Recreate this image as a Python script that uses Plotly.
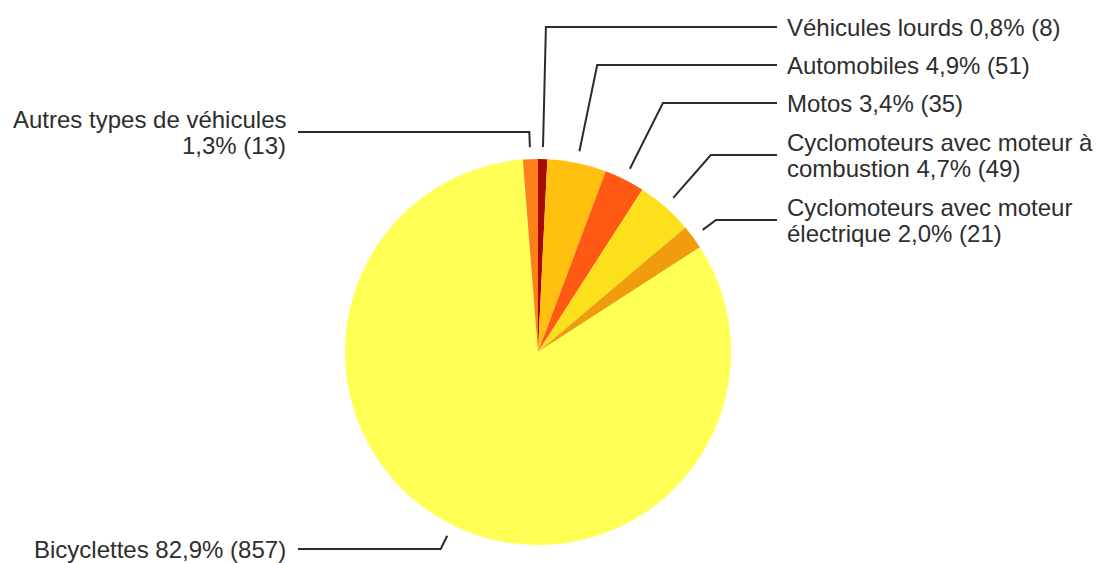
import math
import plotly.graph_objects as go

W, H = 1099, 563

# Data (clockwise from 12 o'clock)
categories = ["Véhicules lourds", "Automobiles", "Motos",
              "Cyclomoteurs avec moteur à combustion",
              "Cyclomoteurs avec moteur électrique",
              "Bicyclettes", "Autres types de véhicules"]
counts = [8, 51, 35, 49, 21, 857, 13]
percent_labels = ["0,8%", "4,9%", "3,4%", "4,7%", "2,0%", "82,9%", "1,3%"]
label_lines = [
    ["Véhicules lourds 0,8% (8)"],
    ["Automobiles 4,9% (51)"],
    ["Motos 3,4% (35)"],
    ["Cyclomoteurs avec moteur à", "combustion 4,7% (49)"],
    ["Cyclomoteurs avec moteur", "électrique 2,0% (21)"],
    ["Bicyclettes 82,9% (857)"],
    ["Autres types de véhicules", "1,3% (13)"],
]
colors = ["#A50A00", "#FFC010", "#FF5A14", "#FDE01C", "#F09C0C", "#FFFF55", "#FF8018"]

# Layout (pixels)
cx, cy, R = 538, 352, 193
r_start = 205
label_y = [27, 65, 103, 155, 220, 549, 132]   # y of the leader's horizontal segment
side = ["r", "r", "r", "r", "r", "l", "l"]
right_line_end, right_text_x = 777, 785
left_line_end, left_text_x = 298, 288
line_gap = 26
font = dict(family="Liberation Sans, Arial, sans-serif", size=24, color="#2e2e2e")

fig = go.Figure()
fig.add_trace(go.Pie(
    labels=categories, values=counts, sort=False, direction="clockwise",
    rotation=0, textinfo="none", hoverinfo="label+value+percent",
    marker=dict(colors=colors, line=dict(width=0)),
    domain=dict(x=[(cx - R) / W, (cx + R) / W], y=[(H - cy - R) / H, (H - cy + R) / H]),
    showlegend=False,
))

total = sum(counts)
cum = 0
shapes = []
annotations = []
for i, v in enumerate(counts):
    mid = (cum + v / 2) / total * 2 * math.pi
    cum += v
    dx, dy = math.sin(mid), -math.cos(mid)
    x0, y0 = cx + r_start * dx, cy + r_start * dy
    ly = label_y[i]
    t = (ly - cy) / dy
    ex = cx + t * dx
    xe = right_line_end if side[i] == "r" else left_line_end
    shapes.append(dict(type="path", xref="x", yref="y",
                       path=f"M {x0:.1f},{y0:.1f} L {ex:.1f},{ly} L {xe},{ly}",
                       line=dict(color="#2b2b2b", width=2)))
    lines = label_lines[i]
    n = len(lines)
    for k, txt in enumerate(lines):
        yk = ly + (k - (n - 1) / 2) * line_gap
        annotations.append(dict(
            x=right_text_x if side[i] == "r" else left_text_x, y=yk,
            xref="x", yref="y", text=txt, showarrow=False,
            xanchor="left" if side[i] == "r" else "right", yanchor="middle",
            font=font))

fig.update_layout(
    width=W, height=H, margin=dict(l=0, r=0, t=0, b=0),
    paper_bgcolor="white", plot_bgcolor="rgba(0,0,0,0)",
    xaxis=dict(range=[0, W], visible=False, fixedrange=True),
    yaxis=dict(range=[H, 0], visible=False, fixedrange=True),
    shapes=shapes, annotations=annotations,
)

fig.write_html("out.html", config={"displayModeBar": False},
               post_script="document.body.style.margin='0';document.body.style.overflow='hidden';")
